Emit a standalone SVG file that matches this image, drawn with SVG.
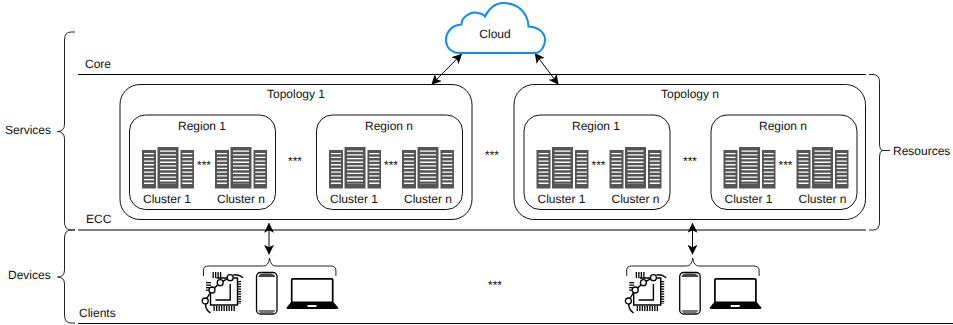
<svg xmlns="http://www.w3.org/2000/svg" width="953" height="325" viewBox="0 0 953 325">
<style>
text{font-family:"Liberation Sans",Arial,sans-serif;font-size:12px;fill:#111;text-rendering:geometricPrecision}
.m{text-anchor:middle}
.box{fill:none;stroke:#111;stroke-width:1}
.ln{fill:none;stroke:#000;stroke-width:1}
.br{fill:none;stroke:#222;stroke-width:1}
.arr{fill:none;stroke:#000;stroke-width:1;marker-start:url(#ah);marker-end:url(#ah)}
.slat{stroke:#fff;stroke-dasharray:1.3 2.4;fill:none}
.pin{fill:none;stroke:#000;stroke-dasharray:1.300 1.200}
.c{fill:#fff;stroke:#000;stroke-width:1.300}
.w{fill:none;stroke:#000;stroke-width:1.400}
</style>
<defs>
<marker id="ah" viewBox="0 0 10 10" refX="9.500" refY="5" markerWidth="10" markerHeight="10" markerUnits="userSpaceOnUse" orient="auto-start-reverse"><path d="M0 0L10 5L0 10L2.500 5Z" fill="#000"/></marker>
<g id="rack">
<rect x="0" y="3" width="14" height="38.500" fill="#555"/>
<rect x="15.500" y="0" width="21" height="41.500" fill="#555"/>
<rect x="38.500" y="3" width="13.500" height="38.500" fill="#555"/>
<path class="slat" stroke-width="10" d="M7 6V37"/>
<path class="slat" stroke-width="16" d="M26 3.500V37"/>
<path class="slat" stroke-width="10" d="M45.300 6V37"/>
</g>
<g id="regionbody">
<rect class="box" x="0" y="0" width="146" height="94.500" rx="16" ry="16"/>
<use href="#rack" x="12.500" y="32"/>
<use href="#rack" x="85.500" y="32"/>
<text class="m" x="37.500" y="88">Cluster 1</text>
<text class="m" x="111.500" y="88">Cluster n</text>
<text class="m" x="74.500" y="54">***</text>
</g>
<g id="devices">
<path class="br" d="M0 18V12Q0 8 5 8H60Q65 8 66 0Q67 8 72 8H127Q132 8 132.400 12V18"/>
<path class="w" stroke-width="1.500" d="M13 20H34V47H7V30"/>
<path class="w" d="M26.700 26V42H12"/>
<path class="pin" stroke-width="5" d="M10 50.500H32"/>
<path class="pin" stroke-width="4" d="M35.500 23V46"/>
<path class="pin" stroke-width="6" d="M9 17H18"/>
<path class="pin" stroke-width="5" d="M5 24V33"/>
<path class="w" d="M26 19.700L17 24.700L8.500 32L1.700 43M2 46Q2 52 7 55M29.800 17Q35 16 39.500 19.700"/>
<circle class="c" cx="26.700" cy="19.700" r="3"/>
<circle class="c" cx="16.700" cy="24.700" r="3"/>
<circle class="c" cx="8.500" cy="32" r="3"/>
<circle class="c" cx="1.700" cy="43" r="3"/>
<rect x="53" y="14.500" width="20.500" height="41.500" rx="4" fill="#fff" stroke="#000" stroke-width="1.300"/>
<path d="M55 19H71.500V18Q70 15.500 66 15.500H60Q56 15.500 55 18Z" fill="#444"/>
<path d="M55 52H71.500V53Q70 55.500 66 55.500H60Q56 55.500 55 53Z" fill="#777"/>
<rect x="88.200" y="20.800" width="41" height="23.500" rx="1" fill="none" stroke="#000" stroke-width="1.700"/>
<path d="M87.500 44H130L135 50Q135 51 132 51H85Q82.800 51 82.800 50Z" fill="#000"/>
<rect x="104" y="47" width="9" height="2" fill="#fff"/>
</g>
</defs>

<g id="connectors">
<path class="ln" d="M78 74.500H866"/>
<path class="ln" d="M78 230H866" stroke="#333"/>
<path class="ln" d="M78 323.500H953"/>
<path class="arr" d="M461.700 54L431.700 84.300"/>
<path class="arr" d="M535 53.300L558.300 84.300"/>
<path class="arr" d="M269 223.300V254.300"/>
<path class="arr" d="M692.500 223.300V254.300"/>
<path class="br" d="M75 32H71Q64.500 32 64.500 40V124Q64.500 131.500 57.500 131.500Q64.500 131.500 64.500 139V222Q64.500 230 71 230H75"/>
<path class="br" d="M75 230H71Q64.500 230 64.500 238V270Q64.500 277 57.500 277Q64.500 277 64.500 284V315Q64.500 323 71 323H75"/>
<path class="br" d="M869 74.500H873Q879.500 74.500 879.500 82V143Q879.500 150.500 883 150.500H890M883 150.500Q879.500 150.500 879.500 158V222Q879.500 230 873 230H869"/>
</g>

<g id="cloud">
<path d="M460 53H535C541 53 545 46 545 40C545 33 539 27 528.500 26.500C528 12 517 3 503 3C496 3 489 8 485 16.500C484 15 481 13.500 478 13C472 11 461.500 16 461.500 24.500C452 25 446 32 446 40C446 47 451 53 460 53Z" fill="#fff" stroke="#0f8cf2" stroke-width="2"/>
<text class="m" x="495" y="38">Cloud</text>
</g>

<g id="topology-1">
<rect class="box" x="120" y="84.500" width="352" height="135" rx="20" ry="20"/>
<text class="m" x="296" y="98">Topology 1</text>
<text class="m" x="295" y="165">***</text>
</g>
<g id="topology-n">
<rect class="box" x="514" y="84.500" width="351.500" height="135" rx="20" ry="20"/>
<text class="m" x="690" y="98">Topology n</text>
<text class="m" x="690" y="165">***</text>
</g>

<g id="t1-region-1">
<use href="#regionbody" x="129.500" y="115"/>
<text class="m" x="202" y="130">Region 1</text>
</g>
<g id="t1-region-n">
<use href="#regionbody" x="316.500" y="115"/>
<text class="m" x="389" y="130">Region n</text>
</g>
<g id="tn-region-1">
<use href="#regionbody" x="524" y="115"/>
<text class="m" x="596" y="130">Region 1</text>
</g>
<g id="tn-region-n">
<use href="#regionbody" x="711" y="115"/>
<text class="m" x="783" y="130">Region n</text>
</g>

<text class="m" x="492" y="159">***</text>
<text class="m" x="495" y="289">***</text>

<g id="clients-1"><use href="#devices" x="203.500" y="258"/></g>
<g id="clients-n"><use href="#devices" x="626.700" y="258"/></g>

<g id="labels">
<text x="85" y="68">Core</text>
<text x="86" y="223">ECC</text>
<text x="79" y="317">Clients</text>
<text x="5" y="134">Services</text>
<text x="8" y="279">Devices</text>
<text x="893" y="155">Resources</text>
</g>
</svg>
